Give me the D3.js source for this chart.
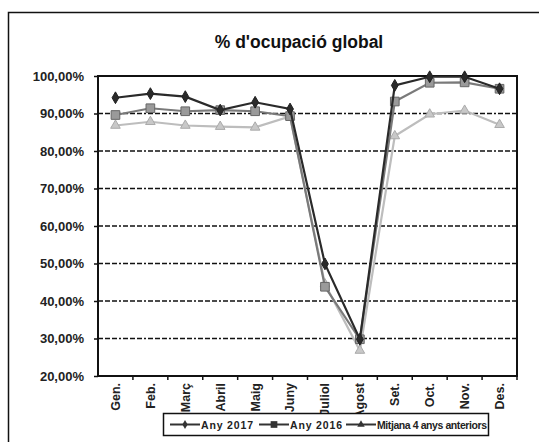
<!DOCTYPE html>
<html>
<head>
<meta charset="utf-8">
<script src="https://cdn.jsdelivr.net/npm/d3@7"></script>
<style>
  body { margin: 0; background: #fff; }
  svg { display: block; font-family: "Liberation Sans", Arial, sans-serif; }
</style>
</head>
<body>
<svg id="chart" width="539" height="442"></svg>
<script>
const months = ['Gen.', 'Feb.', 'Març', 'Abril', 'Maig', 'Juny', 'Juliol', 'Agost', 'Set.', 'Oct.', 'Nov.', 'Des.'];
const any2017 = [94.2, 95.3, 94.5, 90.9, 93.0, 91.2, 49.9, 29.8, 97.5, 99.8, 99.8, 96.6];
const any2016 = [89.6, 91.4, 90.6, 90.9, 90.6, 89.3, 43.8, 29.8, 93.2, 98.2, 98.3, 96.6];
const mitjana = [86.8, 87.8, 86.8, 86.5, 86.3, 89.2, 44.5, 26.8, 84.0, 89.8, 90.8, 87.0];
const yTicks = [20, 30, 40, 50, 60, 70, 80, 90, 100];
const seriesNames = ['Any 2017', 'Any 2016', 'Mitjana 4 anys anteriors'];

const svg = d3.select('#chart');
const margin = { left: 98, top: 76, right: 517, bottom: 376 };

// marc exterior
svg.append('path')
  .attr('d', 'M8.5,445 V12.5 H545')
  .attr('fill', 'none').attr('stroke', '#111').attr('stroke-width', 1.5);

// títol
svg.append('text')
  .attr('x', 299).attr('y', 48)
  .attr('text-anchor', 'middle')
  .style('font-size', '17.5px').style('font-weight', 'bold').style('fill', '#111')
  .text("% d'ocupació global");

const x = d3.scaleBand().domain(months).range([margin.left, margin.right]);
const y = d3.scaleLinear().domain([20, 100]).range([margin.bottom, margin.top]);

// graella
svg.append('g').selectAll('line').data(yTicks.slice(1, -1)).enter()
  .append('line')
  .attr('x1', margin.left).attr('x2', margin.right)
  .attr('y1', d => y(d)).attr('y2', d => y(d))
  .attr('stroke', '#111').attr('stroke-width', 1.6)
  .attr('stroke-dasharray', '5,2,5,2,5,2,2,2');

// eix y
const yAxis = d3.axisLeft(y).tickValues(yTicks).tickSize(4).tickPadding(10)
  .tickFormat(d => d3.format('.2f')(d).replace('.', ',') + '%');
const gy = svg.append('g').attr('transform', `translate(${margin.left},0)`).call(yAxis);
gy.select('.domain').remove();
gy.selectAll('line').attr('stroke', '#111').attr('stroke-width', 1.5);
gy.selectAll('text').style('font-size', '13px').style('font-weight', 'bold').style('fill', '#222');

// eix x
const xAxis = d3.axisBottom(x).tickSize(0).tickPadding(0);
const gx = svg.append('g').attr('transform', `translate(0,${margin.bottom})`).call(xAxis);
gx.select('.domain').remove();
gx.selectAll('.tick line').remove();
gx.selectAll('text')
  .attr('transform', 'rotate(-90)')
  .attr('x', -7).attr('y', 0).attr('dy', '0.35em')
  .attr('text-anchor', 'end')
  .style('font-size', '12.5px').style('font-weight', 'bold').style('fill', '#222');
svg.append('g').selectAll('line').data(months).enter()
  .append('line')
  .attr('x1', d => x(d) + x.bandwidth()).attr('x2', d => x(d) + x.bandwidth())
  .attr('y1', margin.bottom).attr('y2', margin.bottom + 4)
  .attr('stroke', '#111').attr('stroke-width', 1.5);

// vora de l'àrea
svg.append('rect')
  .attr('x', margin.left).attr('y', margin.top)
  .attr('width', margin.right - margin.left).attr('height', margin.bottom - margin.top)
  .attr('fill', 'none').attr('stroke', '#111').attr('stroke-width', 2);

const cx = (d, i) => x(months[i]) + x.bandwidth() / 2;
const line = d3.line().x(cx).y(d => y(d));

const series = [
  { values: mitjana, stroke: '#bdbdbd', fill: '#c8c8c8', edge: '#aaa', symbol: d3.symbolTriangle, size: 40 },
  { values: any2016, stroke: '#7a7a7a', fill: '#9a9a9a', edge: '#666', symbol: d3.symbolSquare, size: 75 },
  { values: any2017, stroke: '#2a2a2a', fill: '#2a2a2a', edge: '#222', symbol: d3.symbolDiamond, size: 40 }
];

series.forEach(s => {
  svg.append('path').datum(s.values)
    .attr('d', line)
    .attr('fill', 'none').attr('stroke', s.stroke).attr('stroke-width', 2.2);
  svg.append('g').selectAll('path').data(s.values).enter()
    .append('path')
    .attr('transform', (d, i) => `translate(${cx(d, i)},${y(d)})`)
    .attr('d', d3.symbol().type(s.symbol).size(s.size))
    .attr('fill', s.fill).attr('stroke', s.edge).attr('stroke-width', 1);
});

// llegenda
const lg = svg.append('g');
lg.append('rect')
  .attr('x', 163.5).attr('y', 413.5).attr('width', 325).attr('height', 22)
  .attr('fill', '#fff').attr('stroke', '#111').attr('stroke-width', 1.5);
const legendItems = [
  { name: seriesNames[0], x: 170, s: series[2] },
  { name: seriesNames[1], x: 259, s: series[1] },
  { name: seriesNames[2], x: 346, s: series[0] }
];
legendItems.forEach(it => {
  lg.append('line')
    .attr('x1', it.x).attr('x2', it.x + 30).attr('y1', 424.5).attr('y2', 424.5)
    .attr('stroke', '#333').attr('stroke-width', 2);
  lg.append('path')
    .attr('transform', `translate(${it.x + 15},424.5)`)
    .attr('d', d3.symbol().type(it.s.symbol).size(it.s.size * 0.6))
    .attr('fill', '#333');
  lg.append('text')
    .attr('x', it.x + 31).attr('y', 428.5)
    .style('font-size', '10.5px').style('font-weight', 'bold').style('fill', '#222')
    .attr('textLength', it.name === seriesNames[2] ? 110 : 52)
    .text(it.name);
});
</script>
</body>
</html>
